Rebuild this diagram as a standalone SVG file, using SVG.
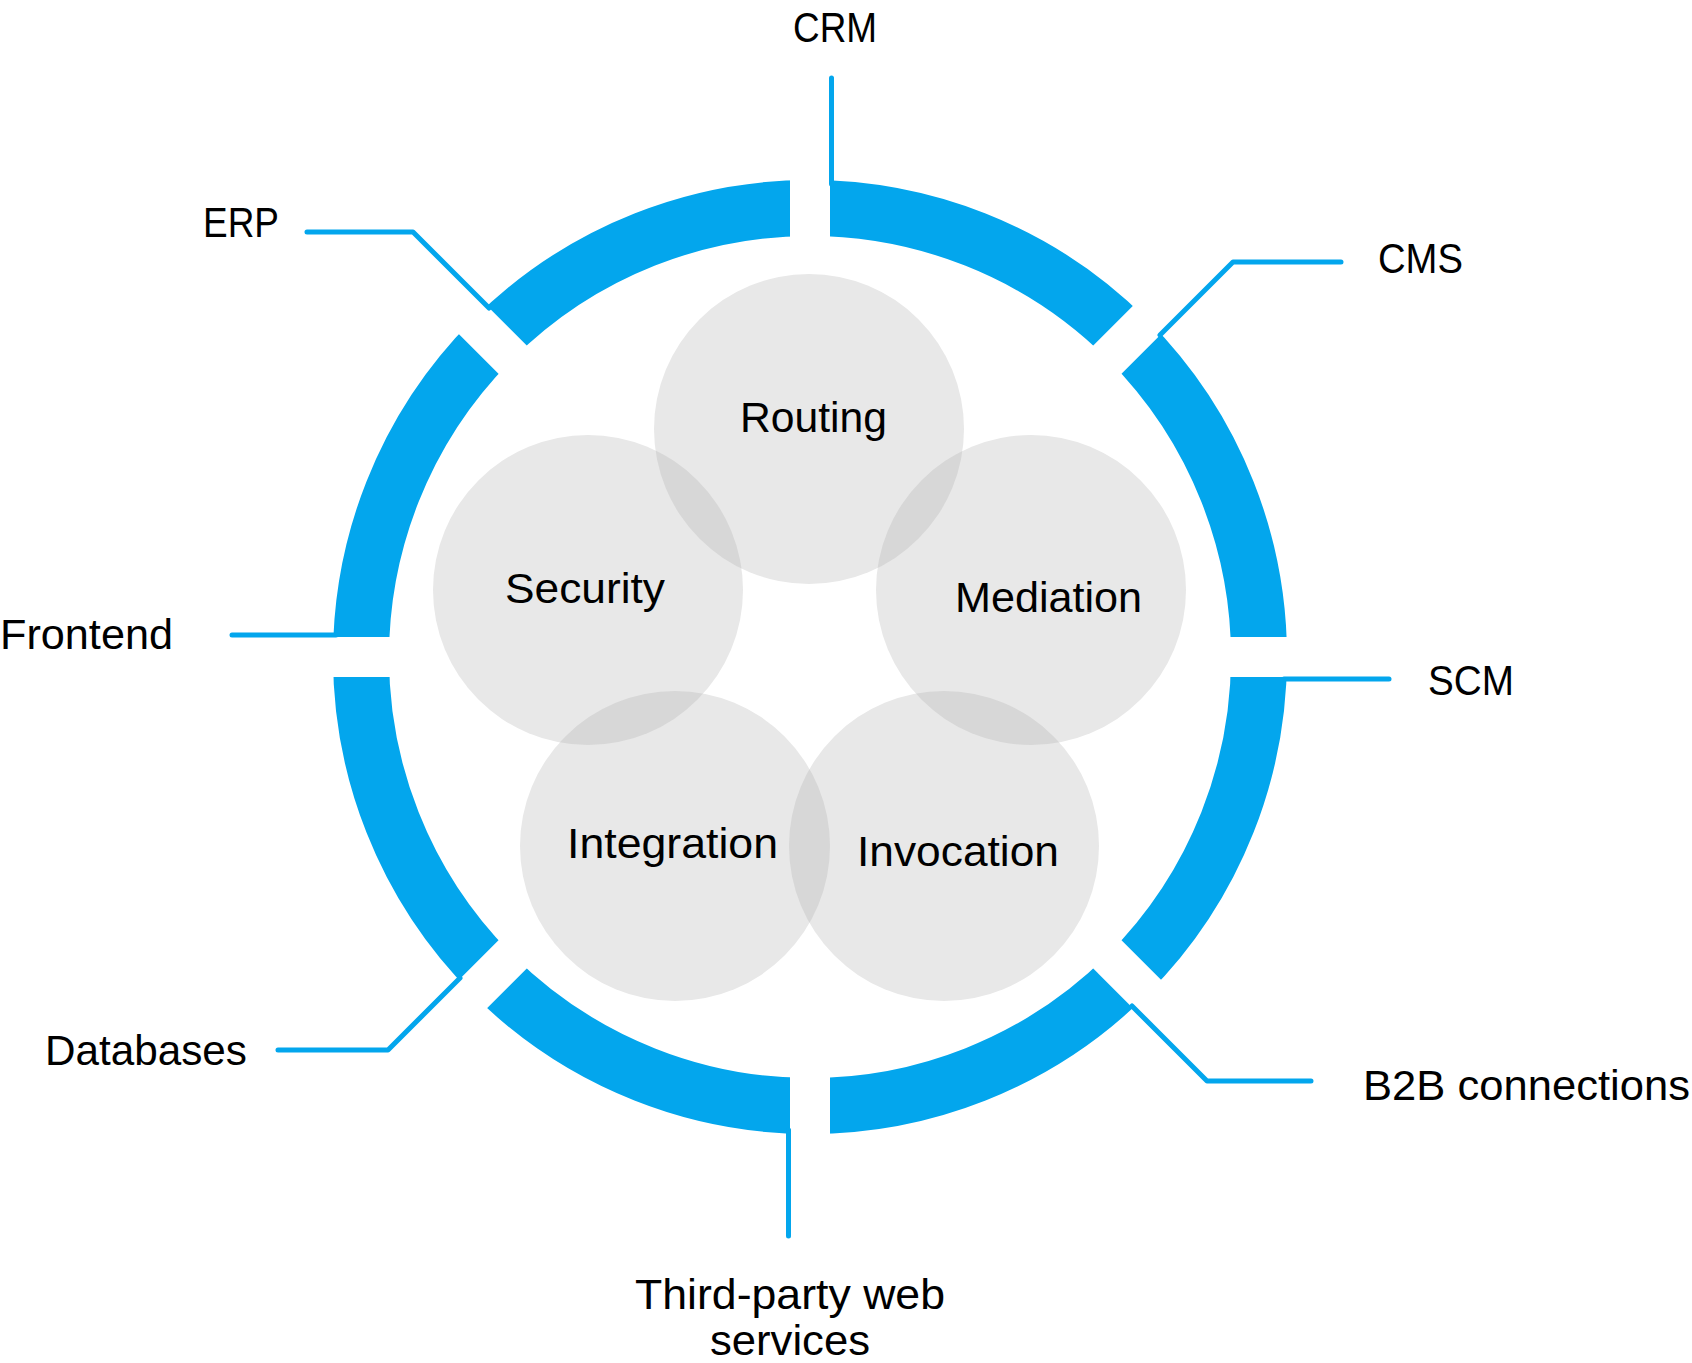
<svg xmlns="http://www.w3.org/2000/svg" width="1692" height="1363" viewBox="0 0 1692 1363">
<style>
.lbl{font-family:"Liberation Sans","Noto Sans",Arial,sans-serif;font-size:42px;fill:#000;}
.circ{fill:#e8e8e8;}
.lens{fill:#d7d7d7;}
.conn{fill:none;stroke:#03a6ed;stroke-width:5;stroke-linejoin:round;stroke-linecap:round;}
.ring{fill:none;stroke:#03a6ed;stroke-width:56;}
</style>
<defs>
<mask id="gaps" maskUnits="userSpaceOnUse" x="0" y="0" width="1692" height="1363">
<rect x="0" y="0" width="1692" height="1363" fill="#fff"/>
<g stroke="#000" stroke-width="40">
<line x1="810" y1="0" x2="810" y2="1363"/>
<line x1="0" y1="657" x2="1692" y2="657"/>
<line x1="110" y1="-43" x2="1510" y2="1357"/>
<line x1="110" y1="1357" x2="1510" y2="-43"/>
</g>
</mask>
<clipPath id="cRouting"><circle cx="809" cy="429" r="155"/></clipPath>
<clipPath id="cSecurity"><circle cx="588" cy="590" r="155"/></clipPath>
<clipPath id="cMediation"><circle cx="1031" cy="590" r="155"/></clipPath>
<clipPath id="cIntegration"><circle cx="675" cy="846" r="155"/></clipPath>
</defs>
<rect x="0" y="0" width="1692" height="1363" fill="#fff"/>

<g id="ring">
<circle class="ring" cx="810" cy="657" r="449" mask="url(#gaps)"/>
</g>

<g id="connectors">
<path class="conn" d="M 831.5 78 V 184"/>
<path class="conn" d="M 307 232 H 413 L 489 308"/>
<path class="conn" d="M 1341 262 H 1233 L 1160 335"/>
<path class="conn" d="M 232 635 H 336"/>
<path class="conn" d="M 1389 679 H 1284"/>
<path class="conn" d="M 1311 1081 H 1207 L 1132 1006"/>
<path class="conn" d="M 278 1050 H 388 L 460 978"/>
<path class="conn" d="M 788.5 1130 V 1236"/>
</g>

<g id="node-routing"><circle class="circ" cx="809" cy="429" r="155"/></g>
<g id="node-security"><circle class="circ" cx="588" cy="590" r="155"/></g>
<g id="node-mediation"><circle class="circ" cx="1031" cy="590" r="155"/></g>
<g id="node-integration"><circle class="circ" cx="675" cy="846" r="155"/></g>
<g id="node-invocation"><circle class="circ" cx="944" cy="846" r="155"/></g>

<g id="overlaps">
<g clip-path="url(#cRouting)"><circle class="lens" cx="588" cy="590" r="155"/><circle class="lens" cx="1031" cy="590" r="155"/></g>
<g clip-path="url(#cSecurity)"><circle class="lens" cx="675" cy="846" r="155"/></g>
<g clip-path="url(#cMediation)"><circle class="lens" cx="944" cy="846" r="155"/></g>
<g clip-path="url(#cIntegration)"><circle class="lens" cx="944" cy="846" r="155"/></g>
</g>

<g id="labels-inner">
<text class="lbl" x="740" y="432" textLength="147" lengthAdjust="spacingAndGlyphs">Routing</text>
<text class="lbl" x="505" y="603" textLength="160" lengthAdjust="spacingAndGlyphs">Security</text>
<text class="lbl" x="955" y="612" textLength="187" lengthAdjust="spacingAndGlyphs">Mediation</text>
<text class="lbl" x="567" y="858" textLength="211" lengthAdjust="spacingAndGlyphs">Integration</text>
<text class="lbl" x="857" y="866" textLength="202" lengthAdjust="spacingAndGlyphs">Invocation</text>
</g>

<g id="node-crm"><text class="lbl" x="793" y="42" textLength="84" lengthAdjust="spacingAndGlyphs">CRM</text></g>
<g id="node-erp"><text class="lbl" x="203" y="237" textLength="76" lengthAdjust="spacingAndGlyphs">ERP</text></g>
<g id="node-cms"><text class="lbl" x="1378" y="273" textLength="85" lengthAdjust="spacingAndGlyphs">CMS</text></g>
<g id="node-frontend"><text class="lbl" x="0" y="649" textLength="173" lengthAdjust="spacingAndGlyphs">Frontend</text></g>
<g id="node-scm"><text class="lbl" x="1428" y="695" textLength="86" lengthAdjust="spacingAndGlyphs">SCM</text></g>
<g id="node-databases"><text class="lbl" x="45" y="1065" textLength="202" lengthAdjust="spacingAndGlyphs">Databases</text></g>
<g id="node-b2b"><text class="lbl" x="1363" y="1100" textLength="327" lengthAdjust="spacingAndGlyphs">B2B connections</text></g>
<g id="node-thirdparty">
<text class="lbl" x="635" y="1309" textLength="310" lengthAdjust="spacingAndGlyphs">Third-party web</text>
<text class="lbl" x="710" y="1355" textLength="160" lengthAdjust="spacingAndGlyphs">services</text>
</g>
</svg>
